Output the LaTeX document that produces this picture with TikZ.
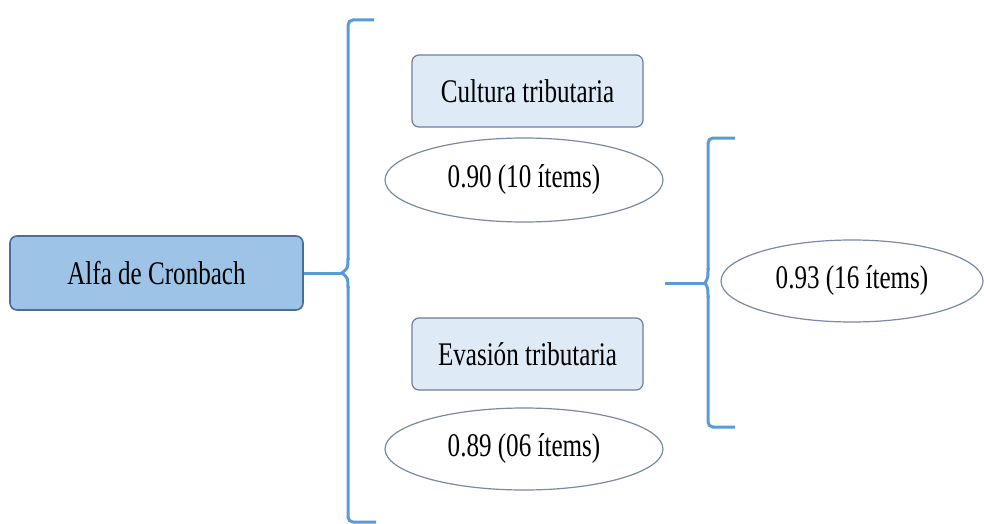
\documentclass[tikz,border=0pt]{standalone}
\usepackage{fontspec}
\setmainfont{Liberation Serif}[FakeStretch=0.76]
\usetikzlibrary{shapes.geometric}
\definecolor{bracketblue}{HTML}{5B9BD5}
\definecolor{mainfill}{HTML}{9DC3E6}
\definecolor{mainedge}{HTML}{4A6E96}
\definecolor{subfill}{HTML}{DEEAF6}
\definecolor{subedge}{HTML}{6E7F95}
\definecolor{ovaledge}{HTML}{7A8AA6}
\tikzset{
  x=1pt, y=-1pt,
  txt/.style={font=\fontsize{33}{38}\selectfont, text=black},
  mainbox/.style={txt, draw=mainedge, line width=1.6pt, fill=mainfill,
    rounded corners=7pt, minimum width=293pt, minimum height=74pt},
  subbox/.style={txt, draw=subedge, line width=1.2pt, fill=subfill,
    rounded corners=7pt, minimum width=231pt, minimum height=72pt},
  oval/.style={txt, ellipse, draw=ovaledge, line width=1.2pt, fill=white,
    minimum width=278pt, minimum height=84pt, inner sep=0pt},
  brack/.style={draw=bracketblue, line width=3pt, rounded corners=5pt}
}
\begin{document}
\begin{tikzpicture}
\useasboundingbox (0,0) rectangle (984,524);
\fill[white] (0,0) rectangle (984,524);

% left node
\node[mainbox] (alfa) at (156.5,273) {Alfa de Cronbach};

% dimension boxes and their coefficients
\node[subbox] (cult) at (527.5,91) {Cultura tributaria};
\node[oval] (c1) at (524,180) {0.90 (10 ítems)};
\node[subbox] (evas) at (527.5,354) {Evasión tributaria};
\node[oval, minimum height=82pt] (c2) at (524,449) {0.89 (06 ítems)};

% overall coefficient
\node[oval, minimum width=262pt, minimum height=82pt] (tot) at (852,281) {0.93 (16 ítems)};

% left brace
\coordinate (ltip) at (342,273);
\coordinate (rstart) at (665,283);
\coordinate (rtip) at (705,283);
\draw[brack] (374,20) -- (348,20) -- (348,260);
\draw[bracketblue, line width=3pt] (348,258) .. controls (348,268) .. (ltip)
  .. controls (348,278) .. (348,288);
\draw[brack] (348,286) -- (348,522) -- (376,522);
\draw[bracketblue, line width=3pt] (alfa.east) -- (ltip);

% right brace
\draw[brack] (735,138) -- (708,138) -- (708,270);
\draw[bracketblue, line width=3pt] (708,268) .. controls (708,278) .. (rtip)
  .. controls (708,288) .. (708,298);
\draw[brack] (708,296) -- (708,427) -- (735,427);
\draw[bracketblue, line width=3pt] (rstart) -- (rtip);
\end{tikzpicture}
\end{document}
